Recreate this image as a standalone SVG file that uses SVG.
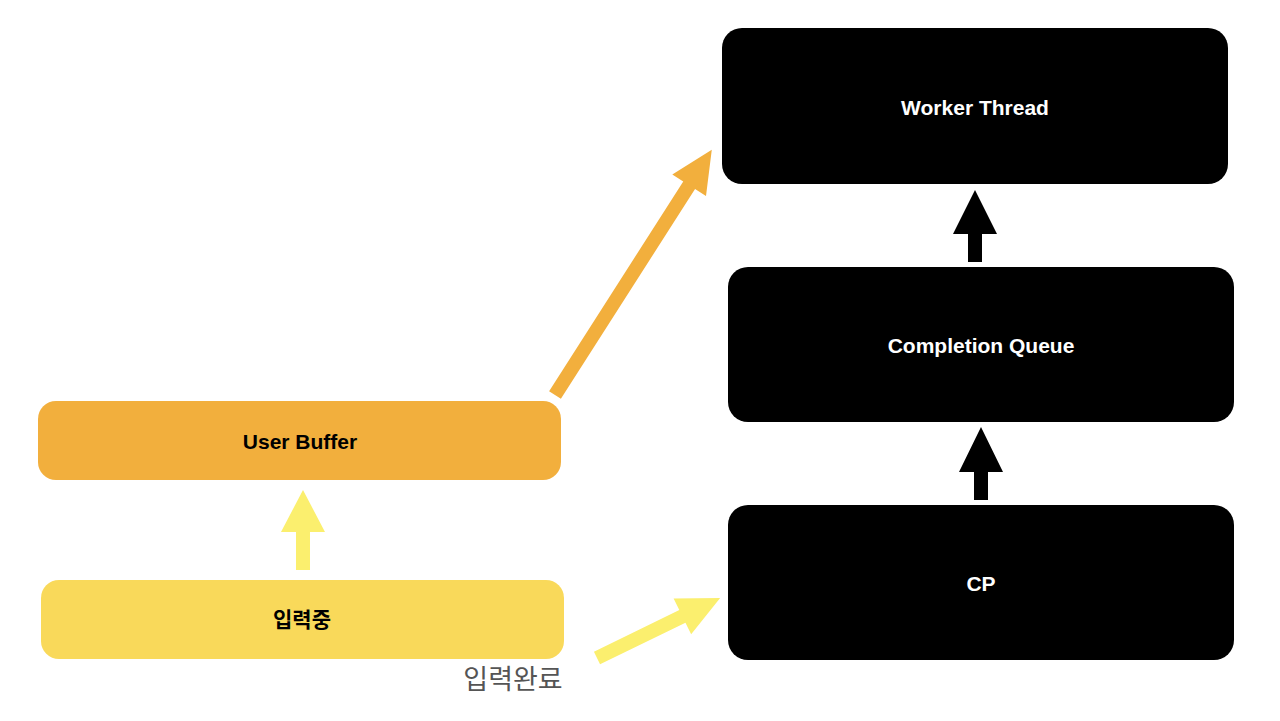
<svg xmlns="http://www.w3.org/2000/svg" width="1280" height="721" viewBox="0 0 1280 721">
<style>
.t{font-family:"Liberation Sans",Arial,sans-serif;font-weight:bold;font-size:21px;text-anchor:middle;dominant-baseline:central}
.w{fill:#fff}.k{fill:#000}
</style>
<rect width="1280" height="721" fill="#fff"/>
<g id="worker"><rect x="722" y="28" width="506" height="156" rx="20" fill="#000"/><text class="t w" x="975" y="107">Worker Thread</text></g>
<g id="queue"><rect x="728" y="267" width="506" height="155" rx="20" fill="#000"/><text class="t w" x="981" y="345">Completion Queue</text></g>
<g id="cp"><rect x="728" y="505" width="506" height="155" rx="20" fill="#000"/><text class="t w" x="981" y="583">CP</text></g>
<g id="userbuffer"><rect x="38" y="401" width="523" height="79" rx="18" fill="#F2AF3D"/><text class="t k" x="300" y="441">User Buffer</text></g>
<g id="input"><rect x="41" y="580" width="523" height="79" rx="18" fill="#F9D95A"/><text class="t k" x="302" y="619" style="font-family:'Liberation Sans','Noto Sans CJK KR',sans-serif">입력중</text></g>
<g id="connectors">
<path transform="translate(303,570) rotate(-90)" d="M0,-7 L38,-7 L38,-22 L80,0 L38,22 L38,7 L0,7 Z" fill="#FBEF6E"/>
<path transform="translate(555,395) rotate(-57.4)" d="M0,-7 L249,-7 L249,-20 L291,0 L249,20 L249,7 L0,7 Z" fill="#F2AF3D"/>
<path transform="translate(597,658) rotate(-26)" d="M0,-7 L95,-7 L95,-20 L137,0 L95,20 L95,7 L0,7 Z" fill="#FBEF6E"/>
<path transform="translate(975,262) rotate(-90)" d="M0,-7 L28,-7 L28,-22 L72,0 L28,22 L28,7 L0,7 Z" fill="#000"/>
<path transform="translate(981,500) rotate(-90)" d="M0,-7 L28,-7 L28,-22 L73,0 L28,22 L28,7 L0,7 Z" fill="#000"/>
<text x="513" y="677" style="font-family:'Noto Sans CJK KR',sans-serif;font-size:27px;fill:#555;text-anchor:middle;dominant-baseline:central">입력완료</text>
</g>
</svg>
